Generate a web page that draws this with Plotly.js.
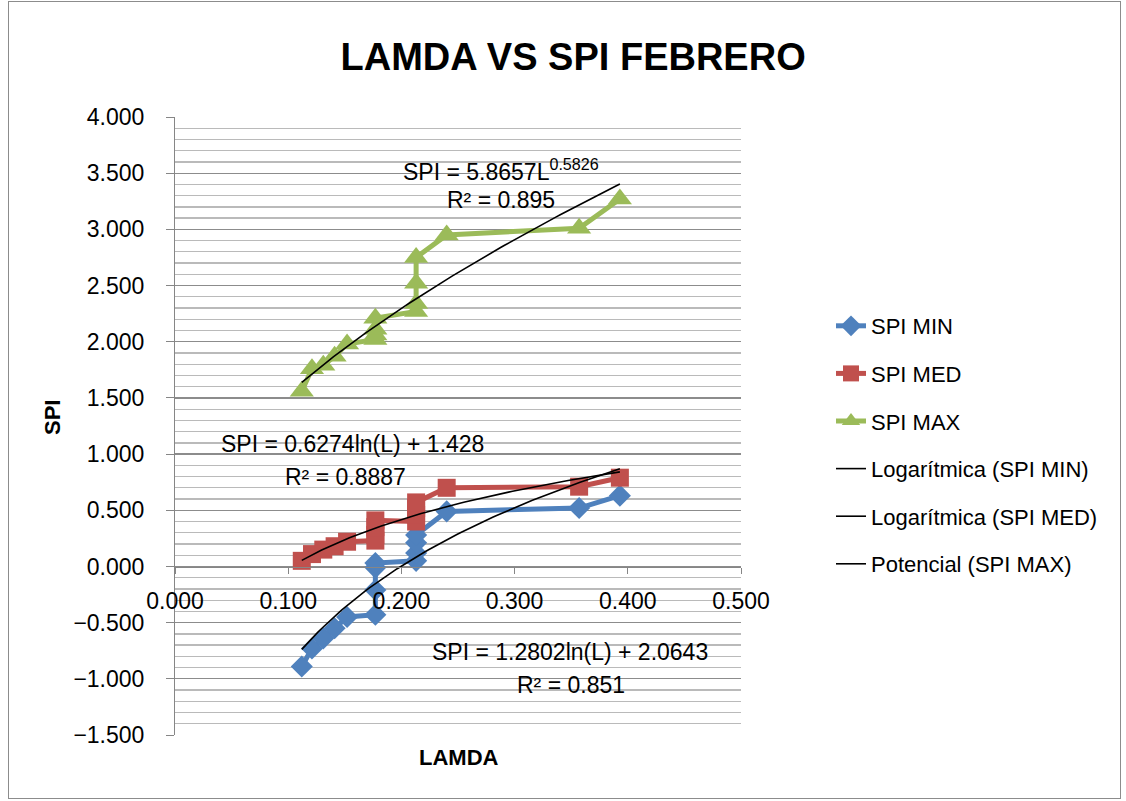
<!DOCTYPE html>
<html><head><meta charset="utf-8">
<script src="https://cdn.plot.ly/plotly-3.0.1.min.js"></script>
<style>
html,body{margin:0;padding:0;background:#fff;}
#wrap{position:relative;width:1126px;height:801px;}
#chart{width:1126px;height:801px;}
#frame{position:absolute;left:8px;top:1px;width:1111px;height:796px;border:1px solid #8c8c8c;pointer-events:none;}
</style>
</head><body>
<div id="wrap"><div id="chart"></div><div id="frame"></div></div>
<script>
// ---- data ----
const lamda  = [0.112, 0.121, 0.131, 0.141, 0.152, 0.177, 0.177, 0.177, 0.177, 0.213, 0.213, 0.213, 0.213, 0.240, 0.357, 0.393];
const spiMin = [-0.89, -0.73, -0.64, -0.55, -0.45, -0.43, -0.21, -0.01, 0.03, 0.05, 0.12, 0.21, 0.28, 0.49, 0.52, 0.63];
const spiMed = [0.05, 0.11, 0.15, 0.18, 0.22, 0.23, 0.28, 0.35, 0.41, 0.40, 0.46, 0.52, 0.57, 0.70, 0.71, 0.79];
const spiMax = [1.56, 1.76, 1.79, 1.87, 1.98, 2.02, 2.06, 2.11, 2.21, 2.27, 2.34, 2.52, 2.75, 2.95, 3.01, 3.27];
const seriesNames = ['SPI MIN', 'SPI MED', 'SPI MAX'];
const trendNames = ['Logarítmica (SPI MIN)', 'Logarítmica (SPI MED)', 'Potencial (SPI MAX)'];
// trendline equations shown on the chart
const logMinCoef = [1.2802, 2.0643];
const logMedCoef = [0.6274, 1.428];
const powMaxCoef = [5.8657, 0.5826];
const eqTexts = ['SPI = 1.2802ln(L) + 2.0643', 'SPI = 0.6274ln(L) + 1.428', 'SPI = 5.8657L<sup>0.5826</sup>'];
const r2Texts = ['R² = 0.851', 'R² = 0.8887', 'R² = 0.895'];
const xTickVals = [0, 0.1, 0.2, 0.3, 0.4, 0.5];
const yTickVals = [-1.5, -1.0, -0.5, 0, 0.5, 1.0, 1.5, 2.0, 2.5, 3.0, 3.5, 4.0];

const FONT = '"Liberation Sans", Arial, sans-serif';
const blue = '#4F81BD', red = '#C0504D', green = '#9BBB59';

// trendline sample x from min to max of data
const xmin = Math.min(...lamda), xmax = Math.max(...lamda);
const tx = [];
for (let i = 0; i <= 80; i++) tx.push(xmin + (xmax - xmin) * i / 80);
const tMin = tx.map(x => logMinCoef[0] * Math.log(x) + logMinCoef[1]);
const tMed = tx.map(x => logMedCoef[0] * Math.log(x) + logMedCoef[1]);
const tMax = tx.map(x => powMaxCoef[0] * Math.pow(x, powMaxCoef[1]));

const traces = [
  {x: lamda, y: spiMin, name: seriesNames[0], mode: 'lines+markers', legendgroup: 'a',
   line: {color: blue, width: 5}, marker: {symbol: 'diamond', size: 17, color: blue}},
  {x: lamda, y: spiMed, name: seriesNames[1], mode: 'lines+markers', legendgroup: 'b',
   line: {color: red, width: 5}, marker: {symbol: 'square', size: 18, color: red}},
  {x: lamda, y: spiMax, name: seriesNames[2], mode: 'lines+markers', legendgroup: 'c',
   line: {color: green, width: 5}, marker: {symbol: 'triangle-up', size: 21, color: green}},
  {x: tx, y: tMin, name: trendNames[0], mode: 'lines', legendgroup: 'd', line: {color: '#000', width: 1.6}},
  {x: tx, y: tMed, name: trendNames[1], mode: 'lines', legendgroup: 'e', line: {color: '#000', width: 1.6}},
  {x: tx, y: tMax, name: trendNames[2], mode: 'lines', legendgroup: 'f', line: {color: '#000', width: 1.6}}
];

// plot area in pixels: x 175..741, y 117..735
const L = 175, R = 741, T = 117, B = 735;
const px = v => (v - L) / (R - L);
const py = v => (B - v) / (B - T);
const annFont = {family: FONT, size: 23, color: '#000'};
const ann = (text, x, y, font) => ({text, x: px(x), y: py(y), xref: 'paper', yref: 'paper',
  xanchor: 'center', yanchor: 'middle', showarrow: false, font: font || annFont});

const layout = {
  width: 1126, height: 801,
  margin: {l: L, r: 1126 - R, t: T, b: 801 - B},
  paper_bgcolor: '#fff', plot_bgcolor: '#fff',
  font: {family: FONT, color: '#000'},
  title: {text: '<b>LAMDA VS SPI FEBRERO</b>', x: 0.509, xanchor: 'center', y: 0.929, yanchor: 'middle',
          font: {family: FONT, size: 38, color: '#000'}},
  showlegend: true,
  legend: {x: px(831), y: py(305), xanchor: 'left', yanchor: 'top', traceorder: 'grouped', tracegroupgap: 16,
           font: {family: FONT, size: 22, color: '#000'}, bgcolor: 'rgba(0,0,0,0)'},
  xaxis: {range: [0, 0.5], tickvals: xTickVals, tickformat: '.3f', anchor: 'free', position: (B - 566.6) / (B - T),
          showline: true, linecolor: '#868686', linewidth: 1, ticks: 'outside', ticklen: 6, tickcolor: '#868686',
          showgrid: false, zeroline: false, tickfont: {family: FONT, size: 23, color: '#000'}, ticklabelstandoff: 8},
  yaxis: {range: [-1.5, 4], tickvals: yTickVals, tickformat: '.3f', showline: true, linecolor: '#868686', linewidth: 1,
          ticks: 'outside', ticklen: 8, tickcolor: '#868686', zeroline: false,
          showgrid: true, gridcolor: '#8c8c8c', gridwidth: 1.2,
          minor: {dtick: 0.1, tick0: 0, showgrid: true, gridcolor: '#bababa', gridwidth: 1.3},
          tickfont: {family: FONT, size: 23, color: '#000'}, ticklabelstandoff: 17},
  annotations: [
    ann(eqTexts[2], 501, 170), ann(r2Texts[2], 501, 200),
    ann(eqTexts[1], 352, 444), ann(r2Texts[1], 345, 477),
    ann(eqTexts[0], 570, 652), ann(r2Texts[0], 571, 685),
    ann('<b>SPI</b>', 52, 418, {family: FONT, size: 22, color: '#000'}),
    ann('<b>LAMDA</b>', 459, 757, {family: FONT, size: 22, color: '#000'})
  ]
};
layout.annotations[6].textangle = -90;

Plotly.newPlot('chart', traces, layout, {displayModeBar: false, staticPlot: true});
</script>
</body></html>
